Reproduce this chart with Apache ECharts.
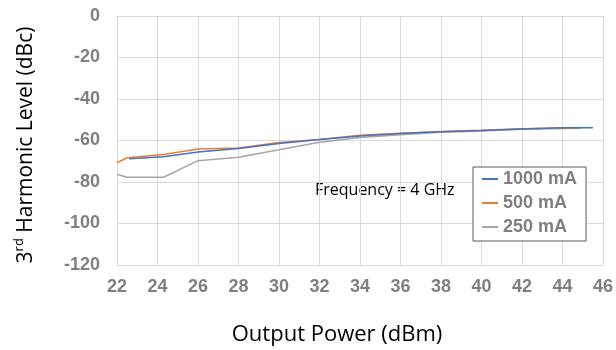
<!DOCTYPE html>
<html>
<head>
<meta charset="utf-8">
<script src="https://cdn.jsdelivr.net/npm/echarts@6/dist/echarts.min.js"></script>
<style>
  html, body { margin: 0; padding: 0; background: #fff; }
  #chart { width: 616px; height: 350px; }
</style>
</head>
<body>
<div id="chart"></div>
<script>
// Output power (dBm) / 3rd harmonic level (dBc) pairs per bias current
const seriesNames = ['1000 mA', '500 mA', '250 mA'];
const seriesColors = ['#4472c4', '#ed7d31', '#a5a5a5'];

const power1000 = [22.6, 24.3, 26, 28, 30, 32, 34, 36, 38, 40, 42, 44, 45.5];
const level1000 = [-68.8, -67.8, -65.5, -63.9, -61.5, -59.5, -57.8, -56.6, -55.8, -55.2, -54.4, -53.9, -53.8];

const power500 = [22, 22.5, 24.3, 26, 28, 30, 32, 34, 36, 38, 40, 42, 44, 44.9];
const level500 = [-70.7, -68.3, -66.7, -64.1, -63.6, -61, -59.5, -57.5, -56.5, -55.7, -55.1, -54.3, -54, -53.9];

const power250 = [22, 22.5, 24.3, 26, 28, 30, 32, 34, 36, 38, 40, 42, 44, 44.9];
const level250 = [-76.3, -77.7, -77.7, -69.7, -68.1, -64.5, -60.8, -58.5, -57.2, -56, -55.4, -54.6, -54.2, -54.1];

const xTicks = { min: 22, max: 46, interval: 2 };
const yTicks = { min: -120, max: 0, interval: 20 };

const xTitle = 'Output Power (dBm)';
const yTitle = '{n|3}{s|rd}{n| Harmonic Level (dBc)}';
const noteText = 'Frequency = 4 GHz';

const pairs = (xs, ys) => xs.map((x, i) => [x, ys[i]]);
const allData = [pairs(power1000, level1000), pairs(power500, level500), pairs(power250, level250)];

const tickFont = {
  color: '#7f7f7f', fontWeight: 'bold', fontSize: 18,
  fontFamily: '"Liberation Sans", Arial, sans-serif'
};
const titleFont = '"Open Sans", "Noto Sans", sans-serif';
const gridColor = '#d9d9d9';

const chart = echarts.init(document.getElementById('chart'));
chart.setOption({
  animation: false,
  grid: { left: 117, right: 13, top: 16, bottom: 85, containLabel: false, outerBoundsMode: 'none' },
  xAxis: {
    type: 'value', min: xTicks.min, max: xTicks.max, interval: xTicks.interval,
    axisLine: { show: true, lineStyle: { color: gridColor } },
    axisTick: { show: false },
    splitLine: { show: true, lineStyle: { color: gridColor } },
    axisLabel: Object.assign({ margin: 13 }, tickFont)
  },
  yAxis: {
    type: 'value', min: yTicks.min, max: yTicks.max, interval: yTicks.interval,
    axisLine: { show: true, lineStyle: { color: gridColor } },
    axisTick: { show: false },
    splitLine: { show: true, lineStyle: { color: gridColor } },
    axisLabel: Object.assign({ margin: 17 }, tickFont)
  },
  legend: {
    data: seriesNames,
    orient: 'vertical',
    left: 473, top: 167,
    backgroundColor: '#fff',
    borderColor: '#595959', borderWidth: 1,
    padding: [2, 9, 4, 9],
    itemGap: 4,
    itemWidth: 16, itemHeight: 2,
    icon: 'rect',
    textStyle: Object.assign({ lineHeight: 20 }, tickFont)
  },
  graphic: [
    {
      type: 'text', left: 315, top: 182,
      style: { text: noteText, fill: '#000', fontSize: 16, fontFamily: titleFont }
    },
    {
      type: 'text', x: 337, y: 335,
      style: {
        text: xTitle, fill: '#000', fontSize: 22, fontFamily: titleFont,
        textAlign: 'center', textVerticalAlign: 'middle'
      }
    },
    {
      type: 'text', x: 26, y: 145, rotation: Math.PI / 2,
      style: {
        text: yTitle, textAlign: 'center', textVerticalAlign: 'middle',
        rich: {
          n: { fill: '#000', fontSize: 21, fontFamily: titleFont, lineHeight: 26 },
          s: { fill: '#000', fontSize: 13, fontFamily: titleFont, lineHeight: 26, verticalAlign: 'top', padding: [0, 0, 8, 0] }
        }
      }
    }
  ],
  series: seriesNames.map((name, i) => ({
    name, type: 'line', data: allData[i],
    showSymbol: false, symbol: 'none',
    lineStyle: { color: seriesColors[i], width: 1.5 },
    itemStyle: { color: seriesColors[i] },
    z: 3 - i
  }))
});
</script>
</body>
</html>
